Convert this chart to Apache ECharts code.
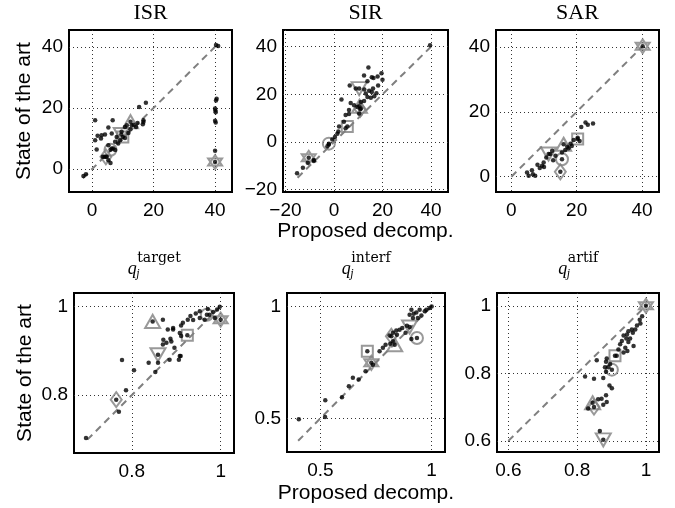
<!DOCTYPE html>
<html><head><meta charset="utf-8">
<script src="https://cdn.jsdelivr.net/npm/echarts@6/dist/echarts.min.js"></script>
<style>html,body{margin:0;padding:0;background:#fff}#c{width:675px;height:508px}</style>
</head><body><div id="c"></div>
<script>
// ---------- data ----------
const panelTitles = ['ISR', 'SIR', 'SAR', 'target', 'interf', 'artif'];
const yAxisName = 'State of the art';
const xAxisName = 'Proposed decomp.';

const isrTicks = [0, 20, 40];
const sirTicks = [-20, 0, 20, 40];
const sarTicks = [0, 20, 40];
const qTargetTicks = [0.8, 1];
const qInterfTicks = [0.5, 1];
const qArtifTicks = [0.6, 0.8, 1];

const isrRange = [-7.5, 45.5];
const sirRange = [-21, 47];
const sarRange = [-4.7, 45.2];
const qTargetRange = [0.67, 1.03];
const qInterfRange = [0.35, 1.06];
const qArtifRange = [0.567, 1.038];

const isrDiag = [-3, 40];
const sirDiag = [-15, 40];
const sarDiag = [0, 40];
const qTargetDiag = [0.7, 1];
const qInterfDiag = [0.4, 1];
const qArtifDiag = [0.6, 1];

const isrDots = [[17.5,21.7],[15.3,20.3],[6.7,16],[1.0,16],[5.3,13.6],[14.8,15.1],[16.7,16],[3.1,11.1],[1.8,10.9],[1.0,9.4],[4.2,11.3],[2.9,10.0],[6.4,11.6],[1.5,6.4],[10.7,10.2],[10.7,13.8],[9.6,12.2],[7.5,8.9],[5.3,7.8],[6.4,6.7],[4.0,4.0],[5.3,2.9],[6.0,2.0],[-2.8,-2.3],[-2,-1.7],[12.9,14.3],[9.1,9.4],[8.0,10.5],[11.3,14.3],[16.5,14.7],[16.7,15.4],[14.3,13.8],[11.8,11.8],[8.5,8.4],[4.8,4.0],[3.5,4.0],[6.9,6.7],[7.5,6.2],[12.5,13],[13.5,14.5],[40.3,40.6],[41,40.3],[40.5,23],[40.3,22.4],[40,19.8],[40.1,19.2],[40.2,18.6],[40,15.8],[40.2,15.2],[40,6]];
const sirDots = [[14.2,31.3],[12.4,27.9],[15.6,27.2],[13.8,25.5],[6.5,23.7],[9,22.4],[16.1,22.4],[15.6,21],[13.1,20.3],[16.6,19.2],[15.2,18.6],[13.8,18.9],[3.1,17.8],[6.9,16.4],[11.1,16.8],[12.4,17.2],[8.3,15.4],[9.7,14.7],[6.2,13.4],[11.1,14.1],[10.4,12],[4.8,11.3],[6.2,11.7],[4.1,8.5],[2.1,6.5],[4.8,5.8],[1.8,4.4],[1.4,3.4],[0.4,2.1],[-0.7,1],[-2.7,-1.8],[-2.1,-1.1],[-8.3,-7.6],[-12.8,-10.8],[-15.2,-13.1],[-10.8,-8.7],[-8.3,-8],[39.6,40.6],[16.3,26.9],[18,27.5],[19.6,28.8],[20,26.1],[18.2,23.7],[14.5,21.5],[17.5,20.5],[12.5,22]];
const sarDots = [[25,16.4],[23.4,16],[22.7,16.7],[21.4,15.3],[20.9,11],[20.3,12],[19.1,11.3],[18.1,10.2],[17.1,9.2],[16.5,8.2],[15.5,7.5],[12.5,8],[11.9,7],[10.7,5.9],[12.8,5.1],[9.9,4.4],[9.4,3.4],[8.7,2.7],[8,3.7],[6.3,2],[4.8,1.3],[5.3,0.3],[7.3,0.3],[6.6,0.8],[18.5,9.5],[17.5,8.8],[13.5,6.5],[10,3]];
const qTargetDots = [[0.998,0.999],[0.992,0.993],[0.983,0.987],[0.971,0.994],[0.953,0.989],[0.944,0.984],[0.932,0.978],[0.926,0.970],[0.938,0.969],[0.915,0.963],[0.911,0.957],[0.953,0.974],[0.964,0.970],[0.975,0.981],[0.987,0.974],[0.870,0.970],[0.881,0.948],[0.893,0.951],[0.908,0.940],[0.887,0.927],[0.878,0.918],[0.870,0.914],[0.889,0.921],[0.911,0.933],[0.896,0.907],[0.908,0.888],[0.906,0.880],[0.885,0.880],[0.838,0.873],[0.859,0.873],[0.853,0.852],[0.778,0.879],[0.805,0.856],[0.787,0.811],[0.771,0.763],[0.697,0.704],[0.871,0.925],[0.893,0.948],[0.910,0.888]];
const qInterfDots = [[1.0,1.0],[0.991,0.993],[0.976,0.985],[0.969,0.978],[0.946,0.985],[0.931,0.973],[0.919,0.967],[0.909,0.985],[0.901,0.963],[0.954,0.959],[0.938,0.948],[0.916,0.948],[0.889,0.914],[0.868,0.904],[0.856,0.896],[0.883,0.882],[0.841,0.893],[0.826,0.882],[0.811,0.870],[0.844,0.874],[0.909,0.855],[0.826,0.844],[0.814,0.833],[0.793,0.829],[0.781,0.815],[0.766,0.800],[0.736,0.740],[0.703,0.711],[0.646,0.681],[0.672,0.674],[0.628,0.644],[0.597,0.595],[0.522,0.581],[0.521,0.506],[0.403,0.496]];
const qArtifDots = [[0.989,0.969],[0.982,0.959],[0.984,0.948],[0.974,0.942],[0.969,0.930],[0.959,0.930],[0.949,0.925],[0.962,0.920],[0.945,0.915],[0.935,0.912],[0.954,0.903],[0.943,0.903],[0.949,0.893],[0.930,0.896],[0.964,0.881],[0.940,0.876],[0.925,0.886],[0.920,0.871],[0.946,0.866],[0.935,0.862],[0.915,0.852],[0.886,0.844],[0.884,0.834],[0.857,0.839],[0.896,0.828],[0.891,0.818],[0.881,0.818],[0.884,0.805],[0.823,0.791],[0.849,0.784],[0.876,0.786],[0.894,0.764],[0.901,0.756],[0.884,0.735],[0.871,0.725],[0.861,0.723],[0.886,0.715],[0.876,0.707],[0.832,0.696],[0.866,0.629]];

// highlighted sources, order: triUp, triDown, square, diamond, circle, hexagram
const markerOrder = ['triUp', 'triDown', 'square', 'diamond', 'circle', 'hexagram'];
const isrMarks = [[12.5,15.5],[9.5,11.3],[10,10.5],[4.5,4.0],[6,6.3],[40,2.3]];
const sirMarks = [[10.5,15],[10.4,22.4],[5.5,6.5],[10.8,13.7],[-2.1,-0.7],[-10.4,-6.6]];
const sarMarks = [[16,10],[11.4,7],[20.3,11.6],[15,1.5],[15.5,5.4],[40.2,40.2]];
const qTargetMarks = [[0.847,0.966],[0.859,0.891],[0.925,0.935],[0.765,0.790],[0.969,0.981],[1.0,0.970]];
const qInterfMarks = [[0.834,0.829],[0.901,0.908],[0.711,0.80],[0.819,0.867],[0.934,0.859],[0.729,0.748]];
const qArtifMarks = [[0.845,0.713],[0.876,0.603],[0.91,0.852],[0.849,0.70],[0.901,0.811],[1.0,1.0]];

// ---------- styles / layout ----------
const GRAY = '#808080';
const symbolDefs = {
  triUp: {symbol: 'triangle', symbolSize: [15, 13], symbolRotate: 0},
  triDown: {symbol: 'triangle', symbolSize: [15, 13], symbolRotate: 180},
  square: {symbol: 'rect', symbolSize: 11, symbolRotate: 0},
  diamond: {symbol: 'diamond', symbolSize: [11, 15], symbolRotate: 0},
  circle: {symbol: 'circle', symbolSize: 12, symbolRotate: 0},
  hexagram: {symbol: 'path://M0,-10L8.66,5L-8.66,5Z M0,10L8.66,-5L-8.66,-5Z', symbolSize: 14, symbolRotate: 0}
};
const panels = [
  {dots: isrDots, marks: isrMarks, diag: isrDiag, ticks: isrTicks, range: isrRange, box: [69, 30, 163, 162]},
  {dots: sirDots, marks: sirMarks, diag: sirDiag, ticks: sirTicks, range: sirRange, box: [283, 30, 165, 162]},
  {dots: sarDots, marks: sarMarks, diag: sarDiag, ticks: sarTicks, range: sarRange, box: [496, 30, 163, 162]},
  {dots: qTargetDots, marks: qTargetMarks, diag: qTargetDiag, ticks: qTargetTicks, range: qTargetRange, box: [74, 293, 160, 160]},
  {dots: qInterfDots, marks: qInterfMarks, diag: qInterfDiag, ticks: qInterfTicks, range: qInterfRange, box: [287, 293, 158, 159]},
  {dots: qArtifDots, marks: qArtifMarks, diag: qArtifDiag, ticks: qArtifTicks, range: qArtifRange, box: [497, 293, 162, 159]}
];

const fmt = v => (v < 0 ? '\u2212' + Math.abs(v) : String(v));
const SANS = 'Liberation Sans, Arial, Helvetica, sans-serif';
const SERIF = 'Liberation Serif, Times New Roman, serif';
const measureCtx = document.createElement('canvas').getContext('2d');
const textWidth = (txt, font) => { measureCtx.font = font; return measureCtx.measureText(txt).width; };

const Q_FONT = 'italic 18px ' + SERIF;
const SUP_FONT = '14px DejaVu Serif, serif';
const SUB_FONT = 'italic 12px ' + SERIF;

const grids = [], xAxes = [], yAxes = [], series = [], graphics = [];
panels.forEach((p, i) => {
  const [l, t, w, h] = p.box;
  grids.push({left: l, top: t, width: w, height: h, show: true, borderColor: '#000', borderWidth: 2,
    backgroundColor: 'transparent', containLabel: false, outerBoundsMode: 'none'});
  const axisCommon = {
    type: 'value', gridIndex: i, min: p.range[0], max: p.range[1],
    axisLine: {show: false},
    axisTick: {show: false, customValues: p.ticks},
    axisLabel: {customValues: p.ticks, formatter: fmt, color: '#000', fontSize: 19, fontFamily: SANS},
    splitLine: {show: true, lineStyle: {color: '#333', width: 1, type: [1, 3]}}
  };
  xAxes.push(Object.assign({}, axisCommon, {
    axisLabel: Object.assign({}, axisCommon.axisLabel, {margin: 9}),
    name: (i === 1 || i === 4) ? xAxisName : '', nameLocation: 'middle',
    nameGap: i === 1 ? 21 : 31,
    nameTextStyle: {color: '#000', fontSize: 21, fontFamily: SANS}
  }));
  yAxes.push(Object.assign({}, axisCommon, {
    axisLabel: Object.assign({}, axisCommon.axisLabel, {margin: 6}),
    name: (i === 0 || i === 3) ? yAxisName : '', nameLocation: 'middle',
    nameGap: i === 0 ? 34 : 38,
    nameTextStyle: {color: '#000', fontSize: 21, fontFamily: SANS}
  }));
  series.push({
    type: 'line', xAxisIndex: i, yAxisIndex: i, symbol: 'none', silent: true, z: 2,
    data: [[p.diag[0], p.diag[0]], [p.diag[1], p.diag[1]]],
    lineStyle: {color: GRAY, width: 2, type: [7, 5]}
  });
  series.push({
    type: 'scatter', xAxisIndex: i, yAxisIndex: i, z: 3, silent: true,
    data: p.marks.map((m, k) => Object.assign({value: m}, symbolDefs[markerOrder[k]])),
    itemStyle: {color: 'transparent', borderColor: GRAY, borderWidth: 2}
  });
  series.push({
    type: 'scatter', xAxisIndex: i, yAxisIndex: i, z: 4, silent: true,
    symbol: 'circle', symbolSize: 4.5,
    data: p.dots.concat(p.marks),
    itemStyle: {color: '#000'}
  });
  const cx = l + w / 2;
  if (i < 3) {
    graphics.push({type: 'text', x: cx, y: 2, style: {text: panelTitles[i], fill: '#000',
      font: '22px ' + SERIF, align: 'center'}});
  } else {
    const word = panelTitles[i];
    const qw = textWidth('q', Q_FONT);
    const sw = textWidth(word, SUP_FONT);
    const qx = cx - (qw + sw) / 2;
    graphics.push({type: 'text', x: qx, y: 260, style: {text: 'q', fill: '#000', font: Q_FONT}});
    graphics.push({type: 'text', x: qx + qw + 0.5, y: 251, style: {text: word, fill: '#000', font: SUP_FONT}});
    graphics.push({type: 'text', x: qx + qw - 0.5, y: 268, style: {text: 'j', fill: '#000', font: SUB_FONT}});
  }
});

const chart = echarts.init(document.getElementById('c'), null, {renderer: 'canvas'});
chart.setOption({
  animation: false,
  backgroundColor: '#fff',
  grid: grids, xAxis: xAxes, yAxis: yAxes, series: series,
  graphic: graphics
});
</script>
</body></html>
